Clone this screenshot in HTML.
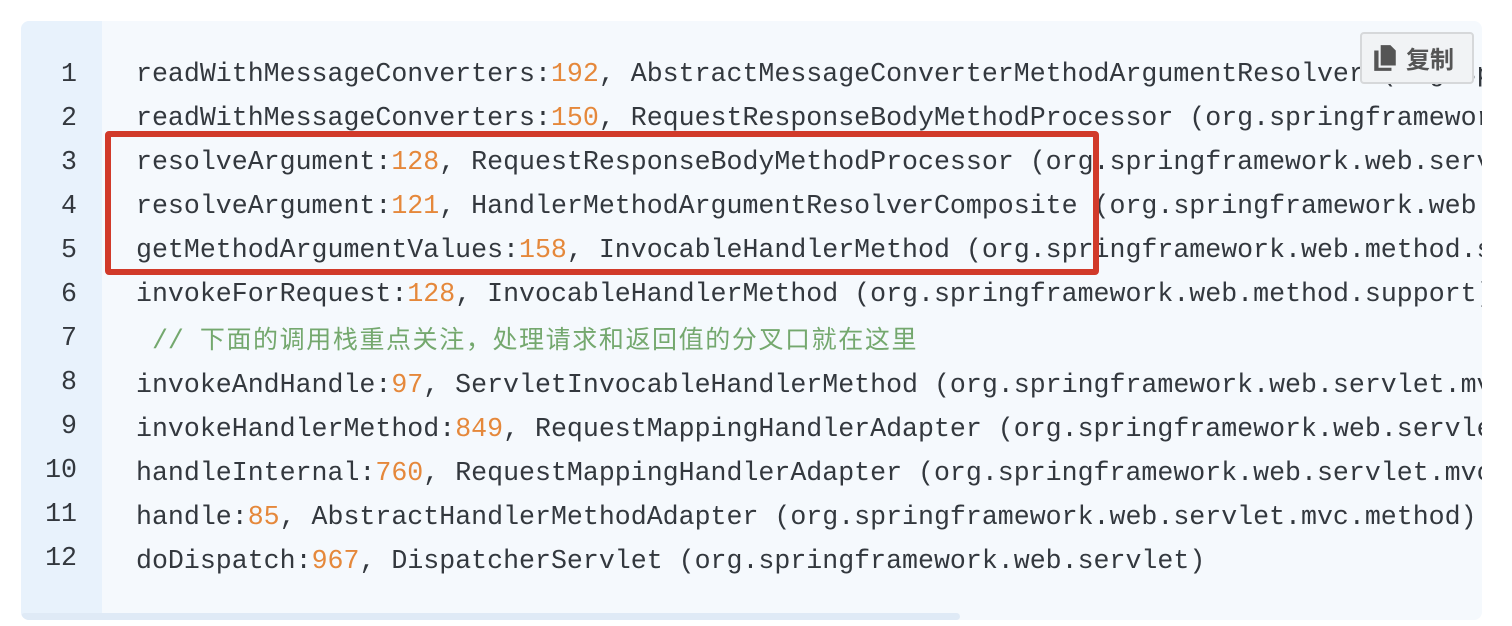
<!DOCTYPE html>
<html><head><meta charset="utf-8"><style>
html,body{margin:0;padding:0;background:#fff;width:1512px;height:626px;overflow:hidden}
.box{position:absolute;left:21px;top:21px;width:1461px;height:599px;background:#f5f9fd;border-radius:8px;overflow:hidden}
.gut{position:absolute;left:0;top:0;width:81px;height:599px;background:#e8f2fc}
.ln{position:absolute;left:0;width:56px;text-align:right;font:26.6px "Liberation Mono",monospace;color:#33383e;line-height:44px}
.code{position:absolute;left:115px;white-space:pre;font:26.6px "Liberation Mono","Noto Sans CJK SC",monospace;color:#33383e;line-height:44px}
.n{color:#e5883b}
.c{color:#74a86e}
.c .z{letter-spacing:1.6px;font-family:"Noto Sans CJK SC",sans-serif;font-size:25px}
.sb{position:absolute;left:0;top:592px;width:939px;height:7px;background:#dfeaf6;border-radius:4px}
.red{position:absolute;left:105px;top:131px;width:982px;height:132px;border:6px solid #d13a2a;border-radius:4px}
.btn{position:absolute;left:1360px;top:32px;width:110px;height:48px;background:#f1f3f5;border:2px solid #d6d8da;border-radius:4px;font:bold 24px "Noto Sans CJK SC",sans-serif;color:#555;line-height:48px}
.btn span{position:absolute;left:44px;top:0}
</style></head><body>
<div class="box">
<div class="gut"></div>
<div class="sb"></div>
<div class="ln" style="top:31px">1<br>2<br>3<br>4<br>5<br>6<br>7<br>8<br>9<br>10<br>11<br>12</div>
<div class="code" style="top:31px">readWithMessageConverters:<span class="n">192</span>, AbstractMessageConverterMethodArgumentResolver (org.springframework
readWithMessageConverters:<span class="n">150</span>, RequestResponseBodyMethodProcessor (org.springframework
resolveArgument:<span class="n">128</span>, RequestResponseBodyMethodProcessor (org.springframework.web.servlet
resolveArgument:<span class="n">121</span>, HandlerMethodArgumentResolverComposite (org.springframework.web.method
getMethodArgumentValues:<span class="n">158</span>, InvocableHandlerMethod (org.springframework.web.method.support
invokeForRequest:<span class="n">128</span>, InvocableHandlerMethod (org.springframework.web.method.support)
<span class="c"> // <span class="z">下面的调用栈重点关注，处理请求和返回值的分叉口就在这里</span></span>
invokeAndHandle:<span class="n">97</span>, ServletInvocableHandlerMethod (org.springframework.web.servlet.mvc
invokeHandlerMethod:<span class="n">849</span>, RequestMappingHandlerAdapter (org.springframework.web.servlet
handleInternal:<span class="n">760</span>, RequestMappingHandlerAdapter (org.springframework.web.servlet.mvc
handle:<span class="n">85</span>, AbstractHandlerMethodAdapter (org.springframework.web.servlet.mvc.method)
doDispatch:<span class="n">967</span>, DispatcherServlet (org.springframework.web.servlet)</div>
</div>
<div class="red"></div>
<div class="btn"><svg style="position:absolute;left:11px;top:10px" width="24" height="28" viewBox="0 0 22 26"><path d="M7 1h9l5 5v14H7z" fill="#555"/><path d="M1 6h4v16h12v3H1z" fill="#555"/></svg><span>复制</span></div>
</body></html>
